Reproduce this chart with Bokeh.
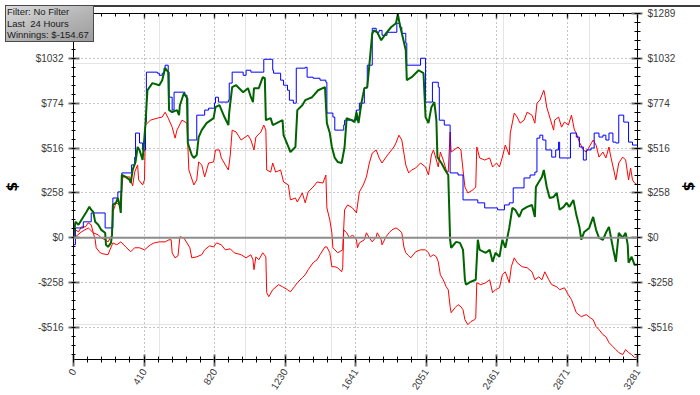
import math
from bokeh.plotting import figure
from bokeh.layouts import column
from bokeh.models import (LinearAxis, FixedTicker, CustomJSTickFormatter, Span,
                          Range1d, Grid, Div)
from bokeh.embed import file_html
from bokeh.resources import INLINE

# ---------------- data ----------------
X_MAX = 3281
Y_MIN, Y_MAX = -699, 1289

x_tick_values = [i * X_MAX / 8 for i in range(9)]
y_tick_values = [k * Y_MAX / 5 for k in range(-2, 6)]

green_x = [0, 11, 29, 46, 75, 92, 103, 115, 126, 144,
           161, 184, 189, 201, 218, 224, 229, 247, 258, 270,
           275, 281, 304, 327, 333, 344, 361, 373, 384, 402,
           419, 430, 459, 499, 516, 533, 551, 556, 574, 602,
           614, 619, 642, 660, 665, 688, 700, 717, 728, 746,
           774, 815, 826, 849, 878, 901, 906, 923, 946, 987,
           1015, 1032, 1044, 1050, 1078, 1101, 1113, 1119, 1147, 1159,
           1193, 1216, 1222, 1250, 1262, 1291, 1302, 1331, 1348, 1388,
           1423, 1463, 1474, 1491, 1503, 1520, 1537, 1560, 1577, 1589,
           1618, 1635, 1646, 1658, 1675, 1692, 1709, 1721, 1738, 1749,
           1767, 1790, 1818, 1847, 1876, 1887, 1899, 1910, 1933, 1939,
           1967, 2008, 2036, 2048, 2065, 2082, 2099, 2111, 2117, 2140,
           2162, 2180, 2191, 2197, 2226, 2248, 2266, 2277, 2283, 2312,
           2340, 2352, 2363, 2398, 2421, 2438, 2455, 2478, 2495, 2512,
           2535, 2553, 2570, 2593, 2610, 2639, 2667, 2684, 2690, 2707,
           2725, 2736, 2753, 2770, 2793, 2811, 2828, 2851, 2868, 2885,
           2908, 2925, 2943, 2954, 2971, 3000, 3023, 3040, 3057, 3080,
           3097, 3115, 3138, 3155, 3172, 3195, 3212, 3224, 3229, 3247,
           3264, 3281]
green_y = [0, 92, 75, 103, 149, 178, 161, 149, 92, 75,
           46, 29, -40, -52, -29, 17, 189, 201, 229, 178,
           143, 361, 350, 333, 315, 390, 436, 522, 505, 447,
           659, 848, 889, 877, 906, 975, 952, 734, 722, 734,
           705, 762, 831, 803, 545, 476, 459, 476, 579, 619,
           659, 688, 751, 762, 694, 648, 722, 866, 877, 837,
           860, 808, 780, 860, 860, 923, 917, 676, 688, 648,
           665, 676, 590, 522, 493, 522, 734, 762, 791, 808,
           848, 866, 659, 602, 522, 459, 436, 430, 522, 688,
           676, 665, 722, 659, 774, 860, 866, 992, 1175, 1192,
           1181, 1135, 1175, 1210, 1233, 1285, 1221, 1175, 1078, 906,
           923, 963, 946, 694, 659, 751, 780, 676, 464, 430,
           390, 361, -11, -57, -23, -29, -69, -241, -269, -252,
           -241, -11, -69, -86, -69, -138, -86, -109, -11, -57,
           57, 172, 161, 120, 161, 178, 189, 120, 292, 321,
           350, 390, 292, 229, 235, 258, 161, 178, 201, 178,
           218, 132, 63, -11, 34, 57, 120, 46, 0, -11,
           29, 63, -57, -138, 29, 0, 29, -40, -143, -109,
           -155, -154.67]

blue_x = [0, 11, 57, 103, 184, 229, 258, 281, 338, 356,
          361, 384, 402, 419, 424, 488, 499, 516, 527, 533,
          551, 556, 574, 585, 631, 648, 660, 665, 717, 763,
          786, 820, 826, 843, 901, 906, 923, 987, 1004, 1032,
          1107, 1159, 1164, 1205, 1222, 1245, 1256, 1279, 1296, 1348,
          1359, 1394, 1434, 1468, 1474, 1509, 1520, 1572, 1577, 1646,
          1663, 1692, 1709, 1738, 1761, 1778, 1795, 1824, 1881, 1899,
          1910, 1933, 1939, 2019, 2048, 2088, 2122, 2128, 2157, 2191,
          2237, 2266, 2352, 2392, 2467, 2507, 2535, 2558, 2621, 2656,
          2684, 2696, 2713, 2730, 2748, 2782, 2805, 2822, 2828, 2891,
          2925, 2943, 2966, 2983, 3011, 3029, 3057, 3080, 3097, 3115,
          3138, 3155, 3172, 3201, 3229, 3252, 3281]
blue_y = [-40, 57, 92, 143, 57, 229, 264, 373, 419, 464,
          602, 545, 505, 665, 952, 946, 934, 946, 975, 992,
          952, 808, 734, 837, 837, 820, 803, 562, 705, 734,
          745, 774, 808, 780, 791, 889, 952, 934, 963, 952,
          1026, 963, 946, 906, 877, 848, 791, 774, 975, 980,
          923, 917, 906, 894, 717, 694, 619, 648, 676, 734,
          774, 860, 992, 1204, 1181, 1192, 1164, 1181, 1233, 1210,
          1175, 1118, 992, 1032, 780, 894, 866, 676, 648, 373,
          361, 218, 201, 172, 161, 189, 201, 287, 344, 361,
          378, 573, 590, 562, 505, 464, 505, 550, 459, 602,
          579, 522, 447, 505, 516, 602, 579, 590, 562, 602,
          550, 545, 705, 665, 550, 533, 533]

red_hi_x = [0, 11, 29, 46, 69, 86, 103, 115, 144, 161,
            184, 201, 224, 229, 247, 270, 287, 327, 344, 356,
            373, 379, 402, 413, 419, 447, 488, 516, 533, 551,
            574, 591, 602, 631, 660, 671, 700, 717, 728, 746,
            763, 786, 815, 826, 849, 860, 883, 901, 912, 923,
            946, 975, 1015, 1032, 1050, 1061, 1090, 1107, 1119, 1124,
            1147, 1159, 1176, 1205, 1222, 1250, 1262, 1291, 1302, 1331,
            1348, 1365, 1394, 1417, 1451, 1468, 1474, 1491, 1503, 1509,
            1537, 1566, 1577, 1595, 1623, 1646, 1663, 1686, 1704, 1721,
            1738, 1761, 1778, 1795, 1818, 1836, 1864, 1876, 1893, 1910,
            1922, 1933, 1950, 1967, 1990, 2019, 2048, 2065, 2082, 2094,
            2111, 2122, 2134, 2151, 2168, 2180, 2191, 2197, 2220, 2237,
            2254, 2266, 2277, 2294, 2323, 2340, 2346, 2363, 2392, 2421,
            2438, 2461, 2478, 2495, 2512, 2535, 2541, 2564, 2581, 2598,
            2621, 2639, 2667, 2684, 2696, 2713, 2736, 2742, 2753, 2770,
            2793, 2799, 2822, 2839, 2856, 2879, 2897, 2914, 2925, 2943,
            2966, 2983, 3000, 3023, 3040, 3057, 3080, 3097, 3115, 3126,
            3143, 3155, 3172, 3195, 3212, 3229, 3241, 3252, 3264, 3281]
red_hi_y = [0, 46, 34, 63, 63, 86, 75, 29, 17, 0,
            -11, -23, 17, 149, 201, 189, 350, 350, 298, 378,
            419, 333, 304, 333, 648, 676, 688, 694, 722, 688,
            636, 573, 619, 676, 659, 390, 304, 333, 436, 419,
            350, 430, 436, 505, 505, 459, 419, 390, 476, 619,
            608, 562, 590, 562, 505, 579, 608, 648, 619, 390,
            378, 430, 378, 390, 321, 304, 218, 229, 206, 258,
            201, 264, 292, 321, 315, 361, 172, 103, 29, -57,
            -86, -69, 161, 189, 172, 143, 264, 304, 350, 430,
            487, 505, 459, 430, 464, 487, 522, 545, 590, 562,
            487, 419, 373, 390, 401, 430, 407, 361, 476, 505,
            447, 407, 493, 447, 390, 378, 608, 493, 510, 522,
            505, 390, 292, 258, 275, 292, 522, 459, 447, 459,
            407, 430, 407, 464, 533, 476, 602, 717, 694, 659,
            676, 722, 705, 659, 774, 791, 848, 820, 751, 694,
            619, 676, 694, 636, 665, 648, 705, 619, 602, 550,
            505, 493, 522, 562, 533, 464, 493, 459, 522, 464,
            390, 333, 430, 464, 447, 333, 401, 333, 315, 304]

red_lo_x = [0, 11, 46, 86, 115, 126, 132, 155, 172, 201,
            212, 229, 252, 275, 304, 333, 356, 384, 413, 447,
            470, 499, 533, 556, 568, 574, 591, 608, 619, 642,
            660, 677, 688, 717, 746, 763, 792, 815, 832, 860,
            883, 912, 935, 975, 1004, 1032, 1044, 1050, 1061, 1078,
            1101, 1119, 1124, 1136, 1159, 1193, 1216, 1245, 1262, 1285,
            1302, 1331, 1348, 1365, 1394, 1417, 1434, 1463, 1474, 1491,
            1503, 1520, 1537, 1560, 1566, 1572, 1589, 1606, 1623, 1646,
            1652, 1663, 1692, 1704, 1721, 1738, 1761, 1767, 1790, 1795,
            1818, 1836, 1853, 1876, 1893, 1910, 1922, 1933, 1950, 1962,
            1990, 2019, 2048, 2065, 2076, 2094, 2111, 2122, 2134, 2151,
            2168, 2180, 2191, 2197, 2220, 2237, 2254, 2266, 2277, 2294,
            2312, 2334, 2340, 2346, 2369, 2398, 2421, 2438, 2455, 2478,
            2495, 2512, 2535, 2547, 2564, 2581, 2610, 2639, 2667, 2684,
            2707, 2725, 2742, 2765, 2782, 2811, 2828, 2856, 2879, 2897,
            2925, 2954, 2983, 3006, 3023, 3040, 3057, 3080, 3097, 3115,
            3138, 3155, 3172, 3195, 3212, 3229, 3247, 3264, 3281]
red_lo_y = [0, 6, 34, 57, 29, -11, -57, -86, -92, -97,
            -69, -29, -40, -23, -52, -80, -57, -57, -69, -40,
            -29, -23, -23, -11, -11, -86, -115, -103, 6, 0,
            -29, -57, -115, -109, -97, -69, -46, -52, -29, -40,
            -69, -63, -86, -97, -115, -97, -126, -183, -109, -126,
            -86, -109, -315, -338, -298, -269, -281, -298, -310, -281,
            -258, -229, -212, -183, -143, -126, -97, -52, -52, -86,
            -166, -166, -172, -195, -172, 46, 29, 0, 17, -11,
            -57, -29, -11, 29, 0, -23, 6, 29, -11, -40,
            6, 29, 46, 57, 46, 29, -52, -86, -103, -115,
            -80, -69, -69, -86, -109, -97, -109, -138, -212, -241,
            -281, -298, -396, -430, -401, -384, -396, -413, -470, -499,
            -481, -470, -459, -258, -269, -258, -241, -315, -298, -287,
            -212, -195, -258, -166, -115, -143, -166, -172, -195, -241,
            -224, -241, -195, -241, -269, -281, -298, -287, -327, -355,
            -430, -453, -441, -459, -470, -510, -527, -556, -568, -602,
            -625, -642, -659, -671, -642, -659, -671, -688, -682]

info_lines = ["Filter: No Filter", "Last&nbsp; 24 Hours", "Winnings: $-154.67"]
axis_title = "$"

# ---------------- layout ----------------
W, H = 700, 395
FL, FR, FT, FB = 70, 642, 13, 360      # frame edges inside the figure (px)

x_minor = [i * X_MAX / 40 for i in range(41)]
y_minor = [k * Y_MAX / 25 for k in range(-13, 26)]

fig = figure(width=W, height=H, x_range=Range1d(0, X_MAX), y_range=Range1d(Y_MIN, Y_MAX),
             output_backend="svg", toolbar_location=None,
             x_axis_location=None, y_axis_location=None,
             min_border_left=FL, min_border_right=W - FR,
             min_border_top=FT, min_border_bottom=H - FB)
fig.outline_line_color = None
fig.background_fill_color = "white"
fig.border_fill_color = "white"

xt = FixedTicker(ticks=x_tick_values, minor_ticks=x_minor)
yt = FixedTicker(ticks=y_tick_values, minor_ticks=y_minor)
xf = CustomJSTickFormatter(code="return Math.round(tick).toString();")
yf = CustomJSTickFormatter(code="var v = Math.ceil(Math.abs(tick) - 1e-6); return (tick < -0.5 ? '-$' : '$') + v;")
blank = CustomJSTickFormatter(code="return '';")

FONT = "Liberation Sans"

def style(ax, tin, tout, mtin, mtout):
    ax.axis_line_color = "black"
    ax.axis_line_width = 1
    ax.major_tick_line_color = "#707070"
    ax.major_tick_line_width = 2
    ax.major_tick_in = tin
    ax.major_tick_out = tout
    ax.minor_tick_line_color = "black"
    ax.minor_tick_line_width = 1
    ax.minor_tick_in = mtin
    ax.minor_tick_out = mtout
    ax.major_label_text_font = FONT
    ax.major_label_text_font_size = "10px"
    ax.major_label_text_color = "#3a3a3a"
    ax.axis_label_text_font = "DejaVu Sans"
    ax.axis_label_text_font_style = "bold"
    ax.axis_label_text_font_size = "14px"
    ax.axis_label_text_color = "black"

bottom = LinearAxis(ticker=xt, formatter=xf, major_label_orientation=1.0)
style(bottom, 5, 7, 3, 3)
bottom.major_label_standoff = 3
fig.add_layout(bottom, "below")

top = LinearAxis(ticker=xt, formatter=blank)
style(top, 5, 0, 3, 0)
top.major_tick_line_color = "#404040"
top.major_tick_line_width = 1.5
top.major_label_standoff = 0
top.major_label_text_font_size = "0px"
fig.add_layout(top, "above")

left = LinearAxis(ticker=yt, formatter=yf, axis_label=axis_title)
style(left, 6, 5, 2, 2)
left.major_label_standoff = 5
left.axis_label_standoff = 13
fig.add_layout(left, "left")

right = LinearAxis(ticker=yt, formatter=yf, axis_label=axis_title)
style(right, 6, 5, 3, 3)
right.major_label_standoff = 5
right.axis_label_standoff = 3
fig.add_layout(right, "right")

for dim, tk in ((0, xt), (1, yt)):
    g = Grid(dimension=dim, ticker=tk, grid_line_color="#8a8a8a",
             grid_line_dash="1 3", grid_line_width=1)
    fig.add_layout(g)

fig.add_layout(Span(location=0, dimension="width", line_color="#8c8c8c", line_width=2))

# ---------------- series ----------------
fig.line(red_lo_x, red_lo_y, line_color="#ff0000", line_width=1)
fig.line(red_hi_x, red_hi_y, line_color="#ff0000", line_width=1)
fig.step(blue_x, blue_y, mode="after", line_color="#0000ff", line_width=1)
fig.line(green_x, green_y, line_color="#006400", line_width=2)

# ---------------- top edge line and info box (top-left) ----------------
edge = Div(text="", width=W, height=2,
           styles={"position": "absolute", "left": "0px", "top": "0px", "z-index": "5",
                   "background": "#3c3c3c"})

info = Div(text="<br>".join(info_lines), width=89, height=37,
           styles={"position": "absolute", "left": "0px", "top": "0px", "z-index": "10",
                   "background": "linear-gradient(160deg, #dcdcdc 0%, #b4b4b4 55%, #9c9c9c 100%)",
                   "border": "1px solid #4a4a4a", "box-sizing": "border-box",
                   "font-family": "Liberation Sans", "font-size": "9.5px",
                   "line-height": "11.5px", "color": "#1a1a1a",
                   "padding": "0px 1px", "white-space": "nowrap", "overflow": "hidden"})

p = column(fig, edge, info)
open("out.html", "w").write(file_html(p, INLINE))
